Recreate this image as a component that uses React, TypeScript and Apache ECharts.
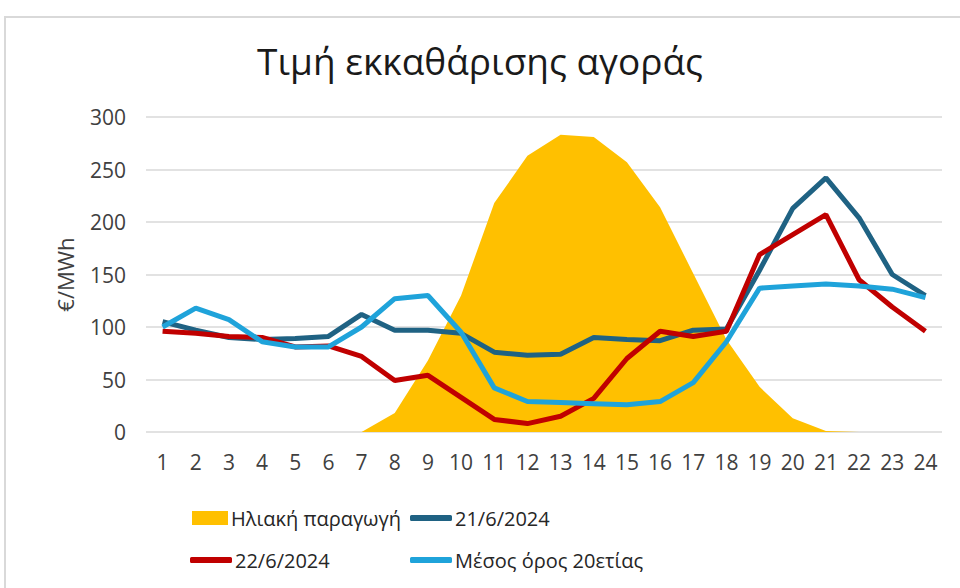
import React, { useEffect, useRef } from "react";
import * as echarts from "echarts";

const hours = ["1","2","3","4","5","6","7","8","9","10","11","12","13","14","15","16","17","18","19","20","21","22","23","24"];
const solar = [0,0,0,0,0,0,0,18,68,130,218,263,283,281,257,214,151,88,43,13,1,0,0,0];
const day21 = [105,97,90,88,89,91,112,97,97,94,76,73,74,90,88,87,97,98,154,213,242,204,150,130];
const day22 = [96,94,91,90,81,82,72,49,54,33,12,8,15,32,70,96,91,96,169,188,207,145,119,96];
const avg20 = [100,118,107,86,81,81,100,127,130,95,42,29,28,27,26,29,47,86,137,139,141,139,136,128];
const yTicks = [0, 50, 100, 150, 200, 250, 300];

const FONT = "'Open Sans', 'Noto Sans', sans-serif";
const names = ["Ηλιακή παραγωγή", "21/6/2024", "22/6/2024", "Μέσος όρος 20ετίας"];
const colors = ["#FFC000", "#1F6283", "#C00000", "#1FA3DA"];

export default function App() {
  const ref = useRef<HTMLDivElement>(null);
  useEffect(() => {
    if (!ref.current) return;
    const chart = echarts.init(ref.current, null, { renderer: "svg" });
    const legendBase = (name: string, left: number, top: number, icon: string, w: number, h: number) => ({
      data: [name],
      left,
      top,
      icon,
      itemWidth: w,
      itemHeight: h,
      itemGap: 0,
      textStyle: { fontFamily: FONT, fontSize: 20, color: "#262626", padding: [0, 0, 0, -2] },
      selectedMode: false,
    });
    chart.setOption({
      animation: false,
      backgroundColor: "#ffffff",
      title: {
        text: "Τιμή εκκαθάρισης αγοράς",
        left: "center",
        top: 37,
        textStyle: { fontFamily: FONT, fontSize: 37, fontWeight: "normal", color: "#1a1a1a" },
      },
      graphic: [
        {
          type: "rect",
          shape: { x: 5, y: 17, width: 1000, height: 620 },
          style: { fill: "none", stroke: "#d9d9d9", lineWidth: 2 },
          silent: true,
        },
      ],
      legend: [
        legendBase(names[0], 187, 503, "rect", 36, 14),
        legendBase(names[1], 405, 503, "roundRect", 42, 6),
        legendBase(names[2], 185, 545, "roundRect", 42, 6),
        legendBase(names[3], 405, 545, "roundRect", 42, 6),
      ],
      grid: { left: 146, right: 18, top: 117, bottom: 156 },
      xAxis: {
        type: "category",
        data: hours,
        boundaryGap: true,
        axisLine: { show: false },
        axisTick: { show: false },
        axisLabel: { fontFamily: FONT, fontSize: 21, color: "#404040", margin: 19 },
      },
      yAxis: {
        type: "value",
        min: yTicks[0],
        max: yTicks[yTicks.length - 1],
        interval: 50,
        name: "€/MWh",
        nameLocation: "middle",
        nameGap: 70,
        nameTextStyle: { fontFamily: FONT, fontSize: 22, color: "#404040" },
        axisLine: { show: false },
        axisTick: { show: false },
        axisLabel: { fontFamily: FONT, fontSize: 21, color: "#404040", margin: 20 },
        splitLine: { lineStyle: { color: "#d9d9d9", width: 1.5 } },
      },
      series: [
        {
          name: names[0],
          type: "line",
          data: solar,
          symbol: "none",
          lineStyle: { width: 0 },
          areaStyle: { color: colors[0], opacity: 1 },
          itemStyle: { color: colors[0] },
        },
        {
          name: names[1],
          type: "line",
          data: day21,
          symbol: "none",
          lineStyle: { width: 5, color: colors[1] },
          itemStyle: { color: colors[1] },
        },
        {
          name: names[2],
          type: "line",
          data: day22,
          symbol: "none",
          lineStyle: { width: 5, color: colors[2] },
          itemStyle: { color: colors[2] },
        },
        {
          name: names[3],
          type: "line",
          data: avg20,
          symbol: "none",
          lineStyle: { width: 5, color: colors[3] },
          itemStyle: { color: colors[3] },
        },
      ],
    });
    return () => chart.dispose();
  }, []);
  return (
    <div
      ref={ref}
      style={{ position: "fixed", left: 0, top: 0, width: 960, height: 588 }}
    />
  );
}
